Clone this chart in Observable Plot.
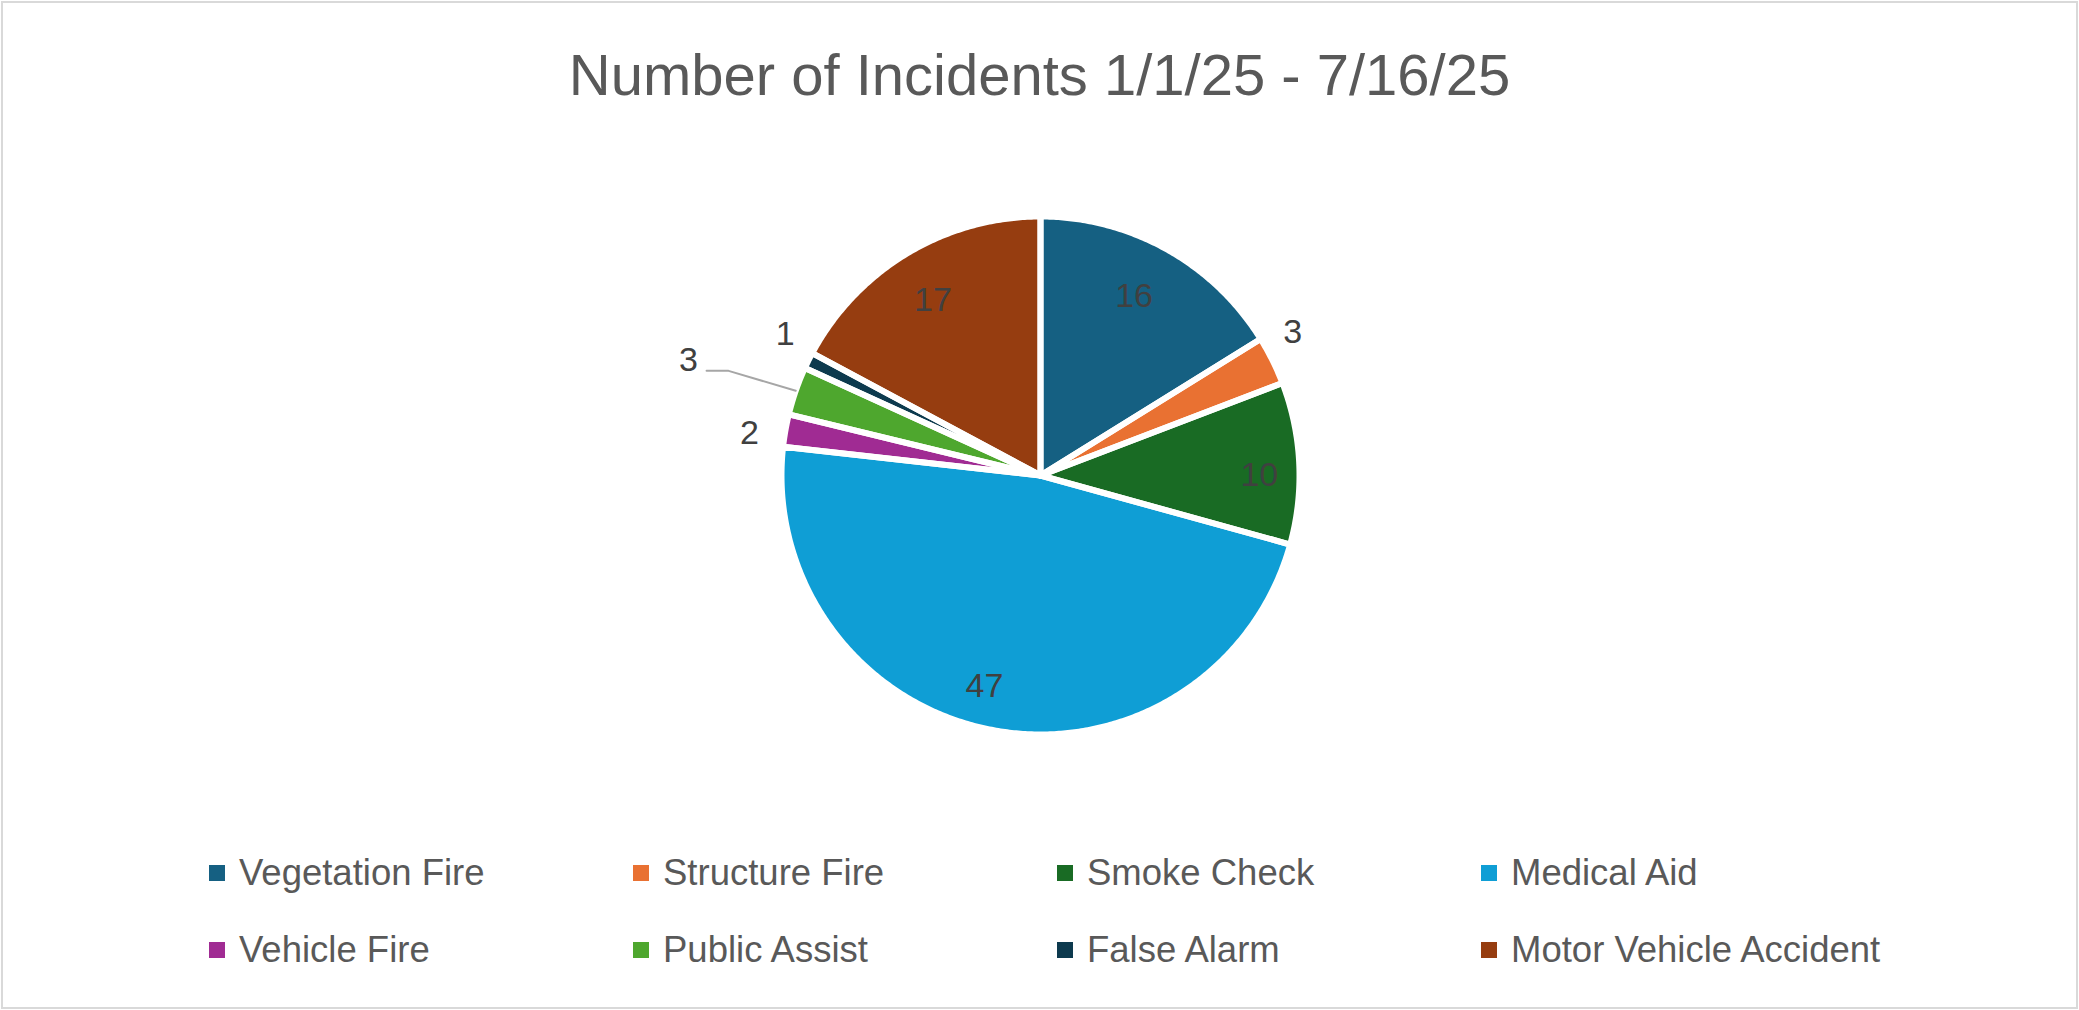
<!DOCTYPE html>
<html>
<head>
<meta charset="utf-8">
<script src="https://cdn.jsdelivr.net/npm/d3@7"></script>
<script src="https://cdn.jsdelivr.net/npm/@observablehq/plot@0.6"></script>
<style>
  html, body { margin: 0; padding: 0; background: #fff; overflow: hidden; }
  #chart { position: relative; width: 2079px; height: 1010px; font-family: "Liberation Sans", Arial, sans-serif; overflow: hidden; background: #fff; }
  #frame { position: absolute; left: 1px; top: 1px; width: 2077px; height: 1008px; box-sizing: border-box; border: 2px solid #d9d9d9; pointer-events: none; }
  #title { position: absolute; left: 0; width: 2079px; top: 46px; text-align: center; font-size: 58px; line-height: 58px; color: #595959; white-space: nowrap; }
  #plot { position: absolute; left: 0; top: 130px; }
  #legend { position: absolute; left: 209px; top: 855px; display: grid; grid-template-columns: repeat(4, 424px); grid-auto-rows: 36px; row-gap: 41px; }
  .item { display: flex; align-items: center; font-size: 36.5px; line-height: 36px; color: #595959; white-space: nowrap; }
  .sw { width: 16px; height: 16px; margin-right: 14px; flex: none; }
</style>
</head>
<body>
<div id="chart">
  <div id="title"></div>
  <div id="plot"></div>
  <div id="legend"></div>
  <div id="frame"></div>
</div>
<script>
const title = "Number of Incidents 1/1/25 - 7/16/25";
const categories = ["Vegetation Fire", "Structure Fire", "Smoke Check", "Medical Aid", "Vehicle Fire", "Public Assist", "False Alarm", "Motor Vehicle Accident"];
const counts = [16, 3, 10, 47, 2, 3, 1, 17];
const colors = ["#156082", "#E97132", "#196B24", "#0F9ED5", "#A02B93", "#4EA72E", "#0D3A4E", "#963D10"];

// label layout (best-fit style): radius as fraction of pie radius, angular nudge in degrees
const labelRadius = [0.78, 1.12, 0.845, 0.84, 1.135, 1.43, 1.127, 0.795];
const labelNudge = [-1.5, -3.2, 2.7, 4, -1.8, -1, 2.6, -0.6];
const labelLeader = [false, false, false, false, false, true, false, false];

const rows = categories.map((c, i) => ({category: c, count: counts[i], i}));
const arcs = d3.pie().sort(null).value(d => d.count)(rows);

const polar = (a, r) => [Math.sin(a) * r, Math.cos(a) * r];

const slices = arcs.map(a => {
  const n = Math.max(2, Math.ceil((a.endAngle - a.startAngle) / (Math.PI / 360)));
  const ring = [[0, 0]];
  for (let i = 0; i <= n; i++) ring.push(polar(a.startAngle + (a.endAngle - a.startAngle) * i / n, 1));
  ring.push([0, 0]);
  return {type: "Feature", properties: {name: a.data.category}, geometry: {type: "Polygon", coordinates: [ring]}};
});

const labels = arcs.map(a => {
  const i = a.data.i;
  const mid = (a.startAngle + a.endAngle) / 2;
  const [x, y] = polar(mid + labelNudge[i] * Math.PI / 180, labelRadius[i]);
  return {x, y, text: String(a.data.count), leader: labelLeader[i], mid};
});

const leaders = labels.filter(d => d.leader).map(d => ({
  type: "Feature", properties: {},
  geometry: {type: "LineString", coordinates: [[d.x + 0.07, d.y - 0.04], [d.x + 0.155, d.y - 0.04], polar(d.mid, 1)]}
}));

const W = 2079, H = 680, R = 259, cx = 1040, cy = 345;

const chart = Plot.plot({
  width: W,
  height: H,
  marginLeft: cx - R,
  marginRight: W - cx - R,
  marginTop: cy - R,
  marginBottom: H - cy - R,
  projection: {type: "reflect-y", domain: {type: "MultiPoint", coordinates: [[-1, -1], [1, 1]]}, clip: false},
  color: {domain: categories, range: colors},
  style: {fontFamily: "'Liberation Sans', Arial, sans-serif", background: "white", overflow: "visible"},
  marks: [
    Plot.geo(slices, {fill: d => d.properties.name}),
    Plot.geo(slices, {fill: "none", stroke: "white", strokeWidth: 6, strokeLinejoin: "round"}),
    Plot.geo(leaders, {stroke: "#a6a6a6", strokeWidth: 2, fill: "none"}),
    Plot.text(labels, {x: "x", y: "y", text: "text", fontSize: 34, fill: "#404040"})
  ]
});
document.getElementById("plot").appendChild(chart);
document.getElementById("title").textContent = title;

const legend = document.getElementById("legend");
categories.forEach((c, i) => {
  const item = document.createElement("div");
  item.className = "item";
  const sw = document.createElement("span");
  sw.className = "sw";
  sw.style.background = colors[i];
  item.appendChild(sw);
  item.appendChild(document.createTextNode(c));
  legend.appendChild(item);
});
</script>
</body>
</html>
